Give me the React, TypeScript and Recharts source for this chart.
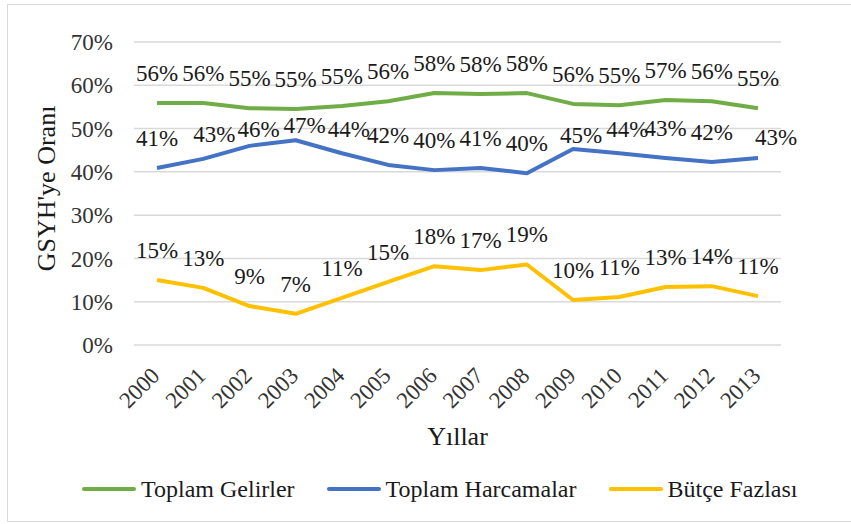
import React from "react";
import { LineChart, Line, XAxis, YAxis, CartesianGrid, Legend, LabelList } from "recharts";

const YEARS = ["2000", "2001", "2002", "2003", "2004", "2005", "2006", "2007", "2008", "2009", "2010", "2011", "2012", "2013"];
const GELIRLER = [55.9, 55.9, 54.7, 54.5, 55.2, 56.3, 58.2, 58.0, 58.2, 55.7, 55.4, 56.6, 56.3, 54.7];
const HARCAMALAR = [40.9, 43.0, 46.0, 47.3, 44.3, 41.6, 40.4, 40.9, 39.7, 45.3, 44.3, 43.2, 42.3, 43.2];
const FAZLA = [15.0, 13.2, 9.0, 7.2, 10.9, 14.6, 18.2, 17.3, 18.6, 10.4, 11.1, 13.4, 13.6, 11.3];
const Y_TICKS = [0, 10, 20, 30, 40, 50, 60, 70];

const SERIES = [
  { key: "gelir", label: "Toplam Gelirler", color: "#70AD47" },
  { key: "harcama", label: "Toplam Harcamalar", color: "#4472C4" },
  { key: "fazla", label: "Bütçe Fazlası", color: "#FFC000" },
] as const;

// hand-placed label nudges (Excel had some labels dragged), [dx, dy] by index
const LABEL_NUDGE: Record<string, Record<number, [number, number]>> = {
  harcama: { 1: [11, 5], 2: [9, 13], 3: [9, 15], 4: [7, 6], 9: [8, 16], 10: [8, 6], 13: [18, 9] },
};

const FONT = "Liberation Serif";

const data = YEARS.map((year, i) => ({
  year,
  gelir: GELIRLER[i],
  harcama: HARCAMALAR[i],
  fazla: FAZLA[i],
}));

function makeLabel(seriesKey: string) {
  // eslint-disable-next-line @typescript-eslint/no-explicit-any
  return (props: any) => {
    const { x, y, value, index } = props;
    const [dx, dy] = LABEL_NUDGE[seriesKey]?.[index] ?? [0, 0];
    return (
      <text x={x + dx} y={y - 22 + dy} textAnchor="middle" style={{ fontFamily: FONT, fontSize: 23 }} fill="#1a1a1a">
        {Math.round(value)}%
      </text>
    );
  };
}

// eslint-disable-next-line @typescript-eslint/no-explicit-any
function YearTick({ x, y, payload }: any) {
  const ax = x + 4;
  const ay = y + 32;
  return (
    <text x={ax} y={ay} transform={`rotate(-45, ${ax}, ${ay})`} textAnchor="end" style={{ fontFamily: FONT, fontSize: 23 }} fill="#333">
      {payload.value}
    </text>
  );
}

function LegendContent() {
  return (
    <div style={{ display: "flex", alignItems: "center", paddingLeft: 82, paddingTop: 4, fontFamily: FONT, fontSize: 24, color: "#1a1a1a" }}>
      {SERIES.map(({ key, label, color }, i) => (
        <div key={key} style={{ display: "flex", alignItems: "center", marginLeft: i === 0 ? 0 : 32 }}>
          <div style={{ width: 54, height: 4, background: color, borderRadius: 2, marginRight: 5 }} />
          <span style={{ lineHeight: "26px" }}>{label}</span>
        </div>
      ))}
    </div>
  );
}

export default function App() {
  return (
    <div style={{ position: "absolute", left: 0, top: 0, width: 851, height: 524, overflow: "hidden", background: "#fff", fontFamily: FONT }}>
      <div style={{ position: "absolute", left: 7, top: 4, width: 900, height: 516, border: "1px solid #d9d9d9" }} />
      <LineChart width={851} height={524} data={data} margin={{ top: 42, right: 70, left: 0, bottom: 0 }}>
        <CartesianGrid stroke="#d9d9d9" strokeWidth={1.5} vertical={false} />
        <XAxis
          dataKey="year"
          padding={{ left: 23, right: 23 }}
          axisLine={false}
          tickLine={false}
          tickSize={0}
          tickMargin={0}
          height={127}
          interval={0}
          tick={<YearTick />}
          label={({ viewBox }: any) => (
            <text x={viewBox.x + viewBox.width / 2} y={viewBox.y + 100} textAnchor="middle" style={{ fontFamily: FONT, fontSize: 26 }} fill="#1a1a1a">
              Yıllar
            </text>
          )}
        />
        <YAxis
          width={134}
          domain={[0, 70]}
          ticks={Y_TICKS}
          tickFormatter={(v) => `${v}%`}
          axisLine={false}
          tickLine={false}
          tickSize={0}
          tickMargin={21}
          tick={{ fontFamily: FONT, fontSize: 23, fill: "#333" }}
          label={({ viewBox }: any) => {
            const cx = 46;
            const cy = viewBox.y + viewBox.height / 2 - 5;
            return (
              <text x={cx} y={cy} transform={`rotate(-90, ${cx}, ${cy})`} textAnchor="middle" dominantBaseline="central" style={{ fontFamily: FONT, fontSize: 26 }} fill="#1a1a1a">
                GSYH'ye Oranı
              </text>
            );
          }}
        />
        <Legend verticalAlign="bottom" height={52} content={<LegendContent />} wrapperStyle={{ left: 0, width: 851 }} />
        {SERIES.map(({ key, label, color }) => (
          <Line
            key={key}
            type="linear"
            dataKey={key}
            name={label}
            stroke={color}
            strokeWidth={4}
            strokeLinejoin="round"
            dot={false}
            isAnimationActive={false}
          >
            <LabelList dataKey={key} content={makeLabel(key)} />
          </Line>
        ))}
      </LineChart>
    </div>
  );
}
